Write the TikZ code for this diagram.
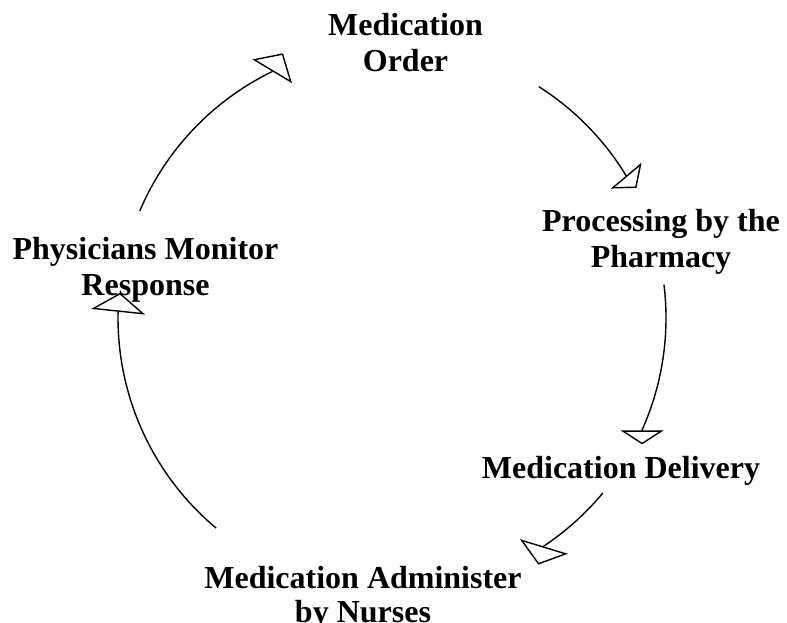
\documentclass[tikz,border=0pt]{standalone}
\usepackage{fontspec}
\setmainfont{Liberation Serif}
\usetikzlibrary{arrows.meta}
\tikzset{
  lbl/.style={font=\bfseries\fontsize{32}{36}\selectfont, align=center, inner sep=0pt, anchor=north},
  arr/.style 2 args={line width=1.4pt, line join=miter, -{Triangle[open, length=#1, width=#2, line width=1.4pt]}}
}
\begin{document}
\begin{tikzpicture}[x=1pt,y=1pt]
\useasboundingbox (0,0) rectangle (787,-623);
\node[lbl] (order) at (405.5,-13) {Medication\\Order};
\node[lbl] (pharm) at (661,-209) {Processing by the\\Pharmacy};
\node[lbl] (deliv) at (621,-456) {Medication Delivery};
\node[lbl, font=\bfseries\fontsize{32}{34}\selectfont] (admin) at (363,-566) {Medication Administer\\by Nurses};
\node[lbl] (phys) at (145.5,-237) {Physicians Monitor\\Response};
\coordinate (c) at (392,-318);
\coordinate (s1) at ([shift={(c)}]157:274);
\coordinate (s2) at ([shift={(c)}]57.6:274);
\coordinate (s3) at ([shift={(c)}]7:274);
\coordinate (s4) at ([shift={(c)}]-39.7:274);
\coordinate (s5) at ([shift={(c)}]230.1:274);
\draw[arr={21pt}{46pt}] (s1) arc[start angle=157, end angle=116, radius=274] -- ++(59:21.5);
\draw[arr={16pt}{40pt}] (s2) arc[start angle=57.6, end angle=31.4, radius=274] -- ++(-50:16.5);
\draw[arr={14pt}{43pt}] (s3) arc[start angle=7, end angle=-24.1, radius=274] -- ++(-90:14.5);
\draw[arr={19pt}{50pt}] (s4) arc[start angle=-39.7, end angle=-56.3, radius=274] -- ++(-107:19.5);
\draw[arr={19pt}{54pt}] (s5) arc[start angle=230.1, end angle=178.8, radius=274] -- ++(84:19.5);
\end{tikzpicture}
\end{document}
